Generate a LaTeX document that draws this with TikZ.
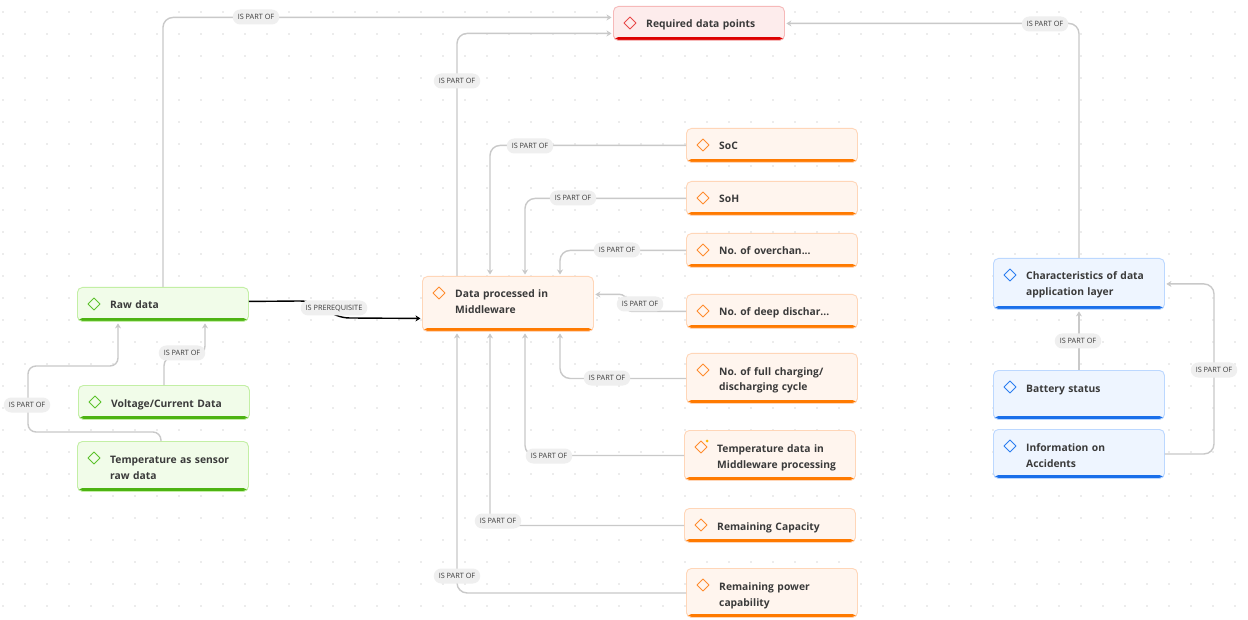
\documentclass[tikz,border=0pt]{standalone}
\usepackage{fontspec}
\setmainfont{Open Sans}
\usetikzlibrary{arrows.meta}

\definecolor{ink}{HTML}{3A3A3A}
\definecolor{lineGray}{HTML}{C9C9C9}
\definecolor{pillGray}{HTML}{EFEFEF}
\definecolor{dotc}{HTML}{DADADA}
\definecolor{orFill}{HTML}{FFF5EE}
\definecolor{orBorder}{HTML}{FFD6B8}
\definecolor{orBar}{HTML}{FF7A00}
\definecolor{orIcon}{HTML}{FF8C2E}
\definecolor{grFill}{HTML}{F1FCE9}
\definecolor{grBorder}{HTML}{C3EFA5}
\definecolor{grBar}{HTML}{4DB312}
\definecolor{grIcon}{HTML}{5CC22B}
\definecolor{blFill}{HTML}{EEF5FF}
\definecolor{blBorder}{HTML}{BCD8FF}
\definecolor{blBar}{HTML}{1A6FEA}
\definecolor{blIcon}{HTML}{2B7DF0}
\definecolor{rdFill}{HTML}{FDECEC}
\definecolor{rdBorder}{HTML}{F6B9B9}
\definecolor{rdBar}{HTML}{DD0000}
\definecolor{rdIcon}{HTML}{E84848}
\definecolor{spark}{HTML}{FFB800}

% text of a card, first line placed next to the diamond mark
\newcommand\cardlabel[3]{\node[ctext] (#1) at ([xshift=33pt,yshift=-22pt]#2.north west) {#3};}
% the diamond mark at the upper left of a card
\newcommand\cardmark[2]{\draw[#2, line width=1pt, line join=round]
  ([xshift=17pt,yshift=-11pt]#1.north west) -- ++(6,6) -- ++(-6,6) -- ++(-6,-6) -- cycle;}

\tikzset{
  card/.style={rectangle, rounded corners=5pt, line width=0.9pt, inner sep=0pt,
    anchor=north west, minimum width=171pt},
  cardO/.style={card, draw=orBorder, fill=orFill, path picture={\fill[orBar]
    ([yshift=3.4pt]path picture bounding box.south west) rectangle (path picture bounding box.south east);}},
  cardG/.style={card, draw=grBorder, fill=grFill, path picture={\fill[grBar]
    ([yshift=3.4pt]path picture bounding box.south west) rectangle (path picture bounding box.south east);}},
  cardB/.style={card, draw=blBorder, fill=blFill, path picture={\fill[blBar]
    ([yshift=3.4pt]path picture bounding box.south west) rectangle (path picture bounding box.south east);}},
  cardR/.style={card, draw=rdBorder, fill=rdFill, path picture={\fill[rdBar]
    ([yshift=3.4pt]path picture bounding box.south west) rectangle (path picture bounding box.south east);}},
  ctext/.style={anchor=base west, inner sep=0pt, font=\bfseries\fontsize{10.3}{16}\selectfont,
    text=ink, align=left, text width=135pt},
  conn/.style={draw=lineGray, line width=1.4pt, rounded corners=10pt},
  arr/.style={-{Stealth[length=5pt,width=6pt]}, shorten >=1.5pt},
  pill/.style={fill=pillGray, rounded corners=7.5pt, inner xsep=5pt, inner ysep=0pt,
    minimum height=15pt, font=\fontsize{7.3}{8}\selectfont, text=ink},
}

\begin{document}
\begin{tikzpicture}[x=1pt,y=-1pt]
\useasboundingbox (0,0) rectangle (1248,620);
\fill[white] (0,0) rectangle (1248,620);

% dotted canvas grid
\foreach \x in {3,25,...,1247}
  \foreach \y in {12,34,...,619}
    \fill[dotc] (\x,\y) circle (0.9pt);

% cards
\node[cardR, minimum height=34pt] (req) at (613,6) {};
\node[cardG, minimum height=34pt] (raw) at (77,287) {};
\node[cardG, minimum height=34pt] (volt) at (78,385) {};
\node[cardG, minimum height=50pt] (tsens) at (77,441) {};
\node[cardO, minimum height=55pt] (mid) at (422,276) {};
\node[cardO, minimum height=34pt] (soc) at (686,128) {};
\node[cardO, minimum height=34pt] (soh) at (686,181) {};
\node[cardO, minimum height=34pt] (over) at (686,233) {};
\node[cardO, minimum height=34pt] (deep) at (686,294) {};
\node[cardO, minimum height=50pt] (full) at (686,353) {};
\node[cardO, minimum height=50pt] (tmid) at (684,430) {};
\node[cardO, minimum height=34pt] (rcap) at (684,508) {};
\node[cardO, minimum height=49pt] (rpow) at (686,568) {};
\node[cardB, minimum height=51pt] (char) at (993,258) {};
\node[cardB, minimum height=49pt] (bat) at (993,370) {};
\node[cardB, minimum height=49pt] (info) at (993,429) {};

% marks
\cardmark{req}{rdIcon}
\cardmark{raw}{grIcon}
\cardmark{volt}{grIcon}
\cardmark{tsens}{grIcon}
\foreach \n in {mid,soc,soh,over,deep,full,tmid,rcap,rpow} {\cardmark{\n}{orIcon}}
\foreach \n in {char,bat,info} {\cardmark{\n}{blIcon}}
\fill[spark] ([xshift=23pt,yshift=-11pt]tmid.north west) circle (1.5pt);

% card texts
\cardlabel{reqT}{req}{Required data points}
\cardlabel{rawT}{raw}{Raw data}
\cardlabel{voltT}{volt}{Voltage/Current Data}
\cardlabel{tsensT}{tsens}{Temperature as sensor\\raw data}
\cardlabel{midT}{mid}{Data processed in\\Middleware}
\cardlabel{socT}{soc}{SoC}
\cardlabel{sohT}{soh}{SoH}
\cardlabel{overT}{over}{No.\ of overchan...}
\cardlabel{deepT}{deep}{No.\ of deep dischar...}
\cardlabel{fullT}{full}{No.\ of full charging/\\discharging cycle}
\cardlabel{tmidT}{tmid}{Temperature data in\\Middleware processing}
\cardlabel{rcapT}{rcap}{Remaining Capacity}
\cardlabel{rpowT}{rpow}{Remaining power\\capability}
\cardlabel{charT}{char}{Characteristics of data\\application layer}
\cardlabel{batT}{bat}{Battery status}
\cardlabel{infoT}{info}{Information on\\Accidents}

% connectors
\draw[conn,arr] (raw.north) |- ([yshift=6pt]req.west);
\draw[conn,arr] ([xshift=35pt]mid.north west) |- ([yshift=-10pt]req.west);
\draw[conn,arr] (char.north) |- (req.east);
\draw[conn,arr] (soc.west) -| ([xshift=68pt]mid.north west);
\draw[conn,arr] (soh.west) -| ([xshift=103pt]mid.north west);
\draw[conn,arr] (over.west) -| ([xshift=138pt]mid.north west);
\draw[conn,arr,rounded corners=6pt] (deep.west) -| (626,302) |- ([yshift=9.5pt]mid.east);
\draw[conn,arr] (full.west) -| ([xshift=138pt]mid.south west);
\draw[conn,arr] (tmid.west) -| ([xshift=103pt]mid.south west);
\draw[conn,arr] (rcap.west) -| ([xshift=68pt]mid.south west);
\draw[conn,arr] (rpow.west) -| ([xshift=35pt]mid.south west);
\draw[line width=1.4pt, black, arr] ([yshift=3pt]raw.east) -- (300,301)
  to[out=0,in=180] (350,318) -- ([yshift=-14.5pt]mid.west);
\draw[conn,arr] (volt.north) |- (205,356) -- ([xshift=128pt]raw.south west);
\draw[conn,arr,rounded corners=8pt] ([xshift=-2pt]tsens.north) |- (28,432) |- (118,366)
  -- ([xshift=41pt]raw.south west);
\draw[conn,arr] (bat.north) -- (char.south);
\draw[conn,arr] (info.east) -| (1214,370) |- (char.east);

% connector labels
\node[pill] (l1) at (256,17) {IS PART OF};
\node[pill] (l2) at (457,81) {IS PART OF};
\node[pill] (l3) at (1045,24) {IS PART OF};
\node[pill] (l4) at (530,146) {IS PART OF};
\node[pill] (l5) at (573,198) {IS PART OF};
\node[pill] (l6) at (617,250) {IS PART OF};
\node[pill] (l7) at (640,304) {IS PART OF};
\node[pill] (l8) at (334,308) {IS PREREQUISITE};
\node[pill] (l9) at (182,353) {IS PART OF};
\node[pill] (l10) at (27,405) {IS PART OF};
\node[pill] (l11) at (607,378) {IS PART OF};
\node[pill] (l12) at (549,456) {IS PART OF};
\node[pill] (l13) at (498,521) {IS PART OF};
\node[pill] (l14) at (457,576) {IS PART OF};
\node[pill] (l15) at (1078,341) {IS PART OF};
\node[pill] (l16) at (1214,370) {IS PART OF};
\end{tikzpicture}
\end{document}
